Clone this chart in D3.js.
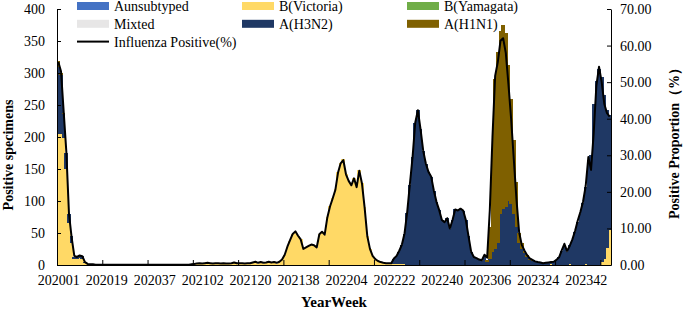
<!DOCTYPE html>
<html>
<head>
<meta charset="utf-8">
<script src="https://cdn.jsdelivr.net/npm/d3@7"></script>
<style>
  body { margin: 0; background: #fff; }
  svg text { font-family: "Liberation Serif", "Times New Roman", serif; fill: #000; }
</style>
</head>
<body>
<svg id="chart" width="685" height="311"></svg>
<script>
// weekly counts, 202001 .. 202351
const yearWeeks = [[2020, 53], [2021, 52], [2022, 52], [2023, 52]];

const tickLabels = ['202001', '202019', '202037', '202102', '202120', '202138',
    '202204', '202222', '202240', '202306', '202324', '202342'];

const leftTicks = [0, 50, 100, 150, 200, 250, 300, 350, 400];
const rightTicks = [0, 10, 20, 30, 40, 50, 60, 70];

const victoria = [
    205, 205, 198, 150, 65, 35, 10, 9, 11, 10,
    3, 1, 0, 0, 0, 0, 0, 0, 0, 0,
    0, 0, 0, 0, 0, 0, 0, 0, 0, 0,
    0, 0, 0, 0, 0, 0, 0, 0, 0, 0,
    0, 0, 0, 0, 0, 0, 0, 0, 0, 0,
    0, 0, 1, 2, 1, 2, 3, 2, 1, 2,
    2, 1, 2, 1, 1, 2, 3, 2, 2, 2,
    1, 2, 2, 3, 4, 2, 3, 2, 3, 4,
    3, 3, 2, 4, 8, 15, 28, 38, 48, 52,
    45, 40, 25, 27, 30, 32, 31, 27, 48, 52,
    47, 75, 92, 104, 118, 145, 160, 165, 142, 132,
    125, 136, 122, 148, 128, 90, 45, 25, 14, 9,
    6, 4, 3, 2, 2, 2, 1, 1, 1, 1,
    1, 0, 0, 0, 0, 0, 0, 0, 0, 0,
    0, 0, 0, 0, 0, 0, 0, 0, 0, 0,
    0, 0, 0, 0, 0, 0, 0, 0, 0, 0,
    0, 0, 0, 0, 0, 0, 0, 0, 0, 0,
    0, 0, 0, 0, 0, 0, 0, 0, 0, 0,
    0, 0, 0, 0, 0, 1, 0, 0, 0, 0,
    0, 0, 2, 0, 0, 0, 0, 0, 2, 0,
    0, 0, 0, 0, 4, 10, 27, 55
];

const h3n2 = [
    105, 92, 38, 25, 15, 10, 3, 3, 3, 4,
    1, 0, 0, 0, 0, 0, 0, 0, 0, 0,
    0, 0, 0, 0, 0, 0, 0, 0, 0, 0,
    0, 0, 0, 0, 0, 0, 0, 0, 0, 0,
    0, 0, 0, 0, 0, 0, 0, 0, 0, 0,
    0, 0, 0, 0, 0, 0, 0, 0, 0, 0,
    0, 0, 0, 0, 0, 0, 0, 0, 0, 0,
    0, 0, 0, 0, 0, 0, 0, 0, 0, 0,
    0, 0, 0, 0, 0, 0, 0, 0, 0, 0,
    0, 0, 0, 0, 0, 0, 0, 0, 0, 0,
    0, 0, 0, 0, 0, 0, 0, 0, 0, 0,
    0, 0, 0, 0, 0, 0, 0, 0, 0, 0,
    0, 0, 0, 0, 0, 0, 8, 12, 20, 30,
    48, 82, 125, 168, 222, 242, 212, 178, 158, 145,
    138, 116, 98, 86, 70, 67, 73, 57, 70, 87,
    85, 88, 85, 70, 45, 20, 12, 10, 8, 7,
    14, 5, 10, 20, 25, 35, 80, 88, 90, 100,
    95, 80, 60, 35, 25, 18, 12, 8, 6, 4,
    3, 3, 2, 3, 3, 4, 5, 8, 12, 22,
    32, 21, 29, 39, 51, 67, 80, 97, 120, 158,
    172, 252, 287, 306, 290, 256, 215, 180
];

const h1n1 = [
    8, 3, 2, 0, 0, 0, 0, 0, 0, 0,
    0, 0, 0, 0, 0, 0, 0, 0, 0, 0,
    0, 0, 0, 0, 0, 0, 0, 0, 0, 0,
    0, 0, 0, 0, 0, 0, 0, 0, 0, 0,
    0, 0, 0, 0, 0, 0, 0, 0, 0, 0,
    0, 0, 0, 0, 0, 0, 0, 0, 0, 0,
    0, 0, 0, 0, 0, 0, 0, 0, 0, 0,
    0, 0, 0, 0, 0, 0, 0, 0, 0, 0,
    0, 0, 0, 0, 0, 0, 0, 0, 0, 0,
    0, 0, 0, 0, 0, 0, 0, 0, 0, 0,
    0, 0, 0, 0, 0, 0, 0, 0, 0, 0,
    0, 0, 0, 0, 0, 0, 0, 0, 0, 0,
    0, 0, 0, 0, 0, 0, 0, 0, 0, 0,
    0, 0, 0, 0, 0, 0, 0, 0, 0, 0,
    0, 0, 0, 0, 0, 0, 0, 0, 0, 0,
    0, 0, 0, 0, 0, 0, 0, 0, 0, 0,
    0, 3, 50, 160, 265, 298, 285, 287, 272, 212,
    165, 115, 70, 15, 9, 4, 3, 2, 2, 1,
    0, 0, 0, 0, 0, 0, 0, 0, 0, 0,
    0, 0, 0, 0, 0, 0, 0, 0, 0, 0,
    0, 0, 0, 0, 0, 0, 0, 0
];

// B(Yamagata), Aunsubtyped, Mixted: nothing visible in the weekly bars
const yamagata = [];
const unsubtyped = [];
const mixted = [];

const positiveRate = [
    55.5, 53, 42, 31, 14, 7.5, 2.5, 2.2, 2.6, 2.4,
    0.8, 0.3, 0.2, 0.2, 0.1, 0.1, 0.1, 0.1, 0.1, 0.1,
    0.1, 0.1, 0.1, 0.1, 0.1, 0.1, 0.1, 0.1, 0.1, 0.1,
    0.1, 0.1, 0.1, 0.1, 0.1, 0.1, 0.1, 0.1, 0.1, 0.1,
    0.1, 0.1, 0.1, 0.1, 0.1, 0.1, 0.1, 0.1, 0.1, 0.1,
    0.2, 0.3, 0.4, 0.5, 0.4, 0.5, 0.6, 0.5, 0.4, 0.5,
    0.5, 0.4, 0.5, 0.4, 0.4, 0.5, 0.7, 0.5, 0.5, 0.5,
    0.4, 0.5, 0.5, 0.7, 0.9, 0.6, 0.8, 0.6, 0.7, 0.9,
    0.7, 0.8, 0.6, 0.9, 1.5, 2.8, 5, 6.8, 8.5, 9.2,
    8, 7, 4.4, 4.8, 5.2, 5.6, 5.4, 4.8, 8.4, 9.1,
    8.3, 13, 16, 18.2, 20.5, 25.2, 27.8, 28.7, 24.8, 23,
    21.8, 23.7, 21.3, 25.8, 22.3, 15.7, 7.9, 4.4, 2.5, 1.6,
    1.1, 0.8, 0.6, 0.5, 0.5, 0.5, 1.8, 2.5, 3.9, 5.6,
    8.7, 14.6, 22.2, 29.5, 38.9, 42.3, 37.1, 31.2, 27.7, 25.4,
    24.1, 20.3, 17.2, 15, 12.3, 11.7, 12.8, 10, 12.3, 15.2,
    14.9, 15.4, 14.9, 12.3, 7.9, 3.6, 2.2, 1.9, 1.5, 1.3,
    2.8, 2, 15, 35, 51.7, 55.5, 61.3, 62, 58, 49.4,
    40, 29, 18, 9, 5.5, 4, 2.7, 1.8, 1.4, 1,
    0.8, 0.7, 0.5, 0.6, 0.7, 0.8, 0.9, 1.4, 2.1, 4,
    5.8, 3.8, 5.2, 7, 9.3, 12.1, 14.5, 17.3, 21.6, 29.5,
    26, 36, 49, 54.2, 50, 44, 41.5, 40.6
];

const plot = {left: 57, right: 611, top: 9, bottom: 265};
const tickMarkStep = 17;

const series = [
    {key: 'victoria', name: 'B(Victoria)', color: '#FFD966', values: victoria},
    {key: 'yamagata', name: 'B(Yamagata)', color: '#70AD47', values: yamagata},
    {key: 'unsubtyped', name: 'Aunsubtyped', color: '#4472C4', values: unsubtyped},
    {key: 'mixted', name: 'Mixted', color: '#E7E6E6', values: mixted},
    {key: 'h3n2', name: 'A(H3N2)', color: '#1F3864', values: h3n2},
    {key: 'h1n1', name: 'A(H1N1)', color: '#7F6000', values: h1n1}
];

const weeks = [];
yearWeeks.forEach(([year, n]) => {
    for (let w = 1; w <= n; w++) weeks.push(`${year}${String(w).padStart(2, '0')}`);
});
const n = positiveRate.length;
const rows = d3.range(n).map(i => {
    const row = {week: weeks[i]};
    series.forEach(s => row[s.key] = s.values[i] || 0);
    return row;
});

const svg = d3.select('#chart');

const x = d3.scaleLinear().domain([0, n]).range([plot.left, plot.right]);
const yLeft = d3.scaleLinear().domain([0, 400]).range([plot.bottom, plot.top]);
const yRight = d3.scaleLinear().domain([0, 70]).range([plot.bottom, plot.top]);

const stacked = d3.stack().keys(series.map(s => s.key))(rows);

// bars snapped to whole pixels so neighbouring weeks meet without seams
svg.append('g')
    .attr('shape-rendering', 'crispEdges')
    .selectAll('g')
    .data(stacked)
    .join('g')
        .attr('fill', (d, i) => series[i].color)
    .selectAll('rect')
    .data(d => d.map((v, i) => ({i, y0: v[0], y1: v[1]})).filter(v => v.y1 > v.y0))
    .join('rect')
        .attr('x', d => Math.floor(x(d.i)))
        .attr('width', d => Math.ceil(x(d.i + 1)) - Math.floor(x(d.i)))
        .attr('y', d => yLeft(d.y1))
        .attr('height', d => yLeft(d.y0) - yLeft(d.y1));

const line = d3.line()
    .x((d, i) => x(i + 0.5))
    .y(d => yRight(d));

svg.append('path')
    .datum(positiveRate)
    .attr('d', line)
    .attr('fill', 'none')
    .attr('stroke', '#000')
    .attr('stroke-width', 2)
    .attr('stroke-linejoin', 'round');

// axes
const styleAxis = g => {
    g.selectAll('path, line').attr('stroke', '#000').attr('stroke-width', 1);
    g.selectAll('text').style('font-size', '14px').attr('fill', '#000');
};

svg.append('g')
    .attr('transform', `translate(${plot.left},0)`)
    .call(d3.axisLeft(yLeft).tickValues(leftTicks).tickSizeInner(-4).tickSizeOuter(0).tickPadding(12))
    .call(styleAxis);

svg.append('g')
    .attr('transform', `translate(${plot.right},0)`)
    .call(d3.axisRight(yRight).tickValues(rightTicks).tickFormat(d3.format('.2f'))
        .tickSizeInner(-4).tickSizeOuter(0).tickPadding(9))
    .call(styleAxis);

// tick marks (every 17 weeks) and labels (every 18 weeks) do not line up
const markValues = d3.range(0, n, tickMarkStep);
svg.append('g')
    .attr('transform', `translate(0,${plot.bottom})`)
    .call(d3.axisBottom(x).tickValues(markValues).tickFormat('').tickSizeInner(-5).tickSizeOuter(0))
    .call(styleAxis);

const labelValues = tickLabels.map(t => weeks.indexOf(t) + 0.5);
svg.append('g')
    .attr('transform', `translate(0,${plot.bottom})`)
    .call(d3.axisBottom(x).tickValues(labelValues).tickFormat(v => weeks[Math.floor(v)]).tickSize(0).tickPadding(10))
    .call(g => g.select('.domain').remove())
    .call(styleAxis);

// axis titles
svg.append('text')
    .attr('transform', `translate(13,155) rotate(-90)`)
    .attr('text-anchor', 'middle')
    .style('font-size', '14px')
    .style('font-weight', 'bold')
    .text('Positive specimens');

svg.append('text')
    .attr('transform', `translate(679,140) rotate(-90)`)
    .attr('text-anchor', 'middle')
    .style('font-size', '14px')
    .style('font-weight', 'bold')
    .text('Positive Proportion（%）');

svg.append('text')
    .attr('x', (plot.left + plot.right) / 2)
    .attr('y', 307)
    .attr('text-anchor', 'middle')
    .style('font-size', '15px')
    .style('font-weight', 'bold')
    .text('YearWeek');

// legend
const legendItems = [
    {name: 'Aunsubtyped', color: '#4472C4', col: 0, row: 0},
    {name: 'B(Victoria)', color: '#FFD966', col: 1, row: 0},
    {name: 'B(Yamagata)', color: '#70AD47', col: 2, row: 0},
    {name: 'Mixted', color: '#E7E6E6', col: 0, row: 1},
    {name: 'A(H3N2)', color: '#1F3864', col: 1, row: 1},
    {name: 'A(H1N1)', color: '#7F6000', col: 2, row: 1},
    {name: 'Influenza Positive(%)', line: true, col: 0, row: 2}
];
const colX = [77, 242, 407];

const legend = svg.append('g')
    .selectAll('g')
    .data(legendItems)
    .join('g')
        .attr('transform', d => `translate(${colX[d.col]},${6 + d.row * 17.8})`);

legend.filter(d => !d.line).append('rect')
    .attr('x', 0).attr('y', -4)
    .attr('width', 32).attr('height', 8)
    .attr('fill', d => d.color);

legend.filter(d => d.line).append('line')
    .attr('x1', 0).attr('x2', 32)
    .attr('stroke', '#000').attr('stroke-width', 2);

legend.append('text')
    .attr('x', 37)
    .attr('dy', '0.35em')
    .style('font-size', '14px')
    .text(d => d.name);
</script>
</body>
</html>
